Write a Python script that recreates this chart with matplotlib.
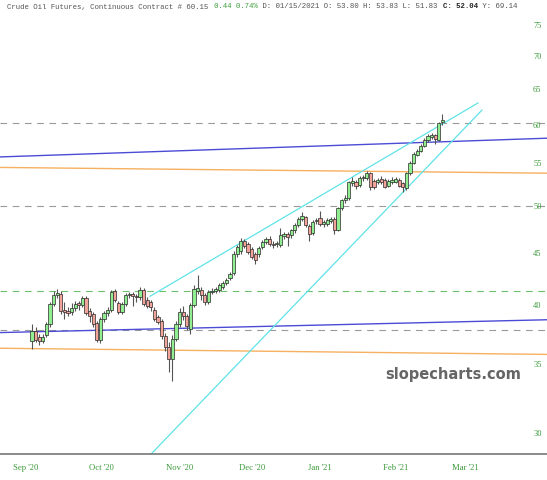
import matplotlib
matplotlib.use('Agg')

import matplotlib.pyplot as plt
import numpy as np
from matplotlib.ticker import NullLocator, FixedLocator, FixedFormatter

# daily candles (index 0 = first bar, early Sep '20)
opens = [36.9, 37.7, 37.2, 36.9, 37.4, 38.3, 40.1, 40.9, 41.0, 39.6,
         39.5, 39.4, 39.7, 40.2, 40.0, 40.6, 39.5, 39.2, 38.4, 37.0,
         38.8, 39.3, 39.6, 41.3, 40.2, 39.4, 40.1, 40.9, 41.0, 40.8,
         40.7, 41.4, 40.5, 40.3, 39.6, 38.9, 38.6, 37.3, 36.4, 35.4,
         37.1, 38.3, 39.4, 39.0, 37.9, 40.0, 41.3, 41.4, 40.9, 40.3,
         41.2, 41.3, 41.4, 41.7, 42.0, 42.5, 43.0, 44.9, 45.2, 46.2,
         45.9, 45.4, 44.9, 44.9, 45.6, 46.1, 46.4, 45.9, 45.9, 45.8,
         46.7, 46.9, 46.8, 47.3, 47.9, 48.5, 48.7, 47.8, 47.0, 48.3,
         48.6, 48.0, 48.0, 48.3, 48.5, 47.4, 49.7, 50.6, 50.9, 52.6,
         52.8, 52.4, 53.2, 53.2, 53.8, 52.9, 52.8, 53.1, 53.0, 52.3,
         52.8, 52.8, 53.0, 52.6, 52.0, 53.8, 55.1, 56.1, 56.6, 57.2,
         57.9, 58.4, 58.6, 58.0, 60.4]
highs = [38.3, 38.1, 37.5, 37.5, 38.5, 40.3, 41.3, 41.5, 41.3, 40.3,
         39.8, 40.2, 40.4, 40.4, 40.8, 40.8, 39.7, 39.4, 38.6, 38.9,
         39.5, 39.8, 41.4, 41.5, 40.4, 40.3, 41.1, 41.2, 41.2, 41.0,
         41.7, 41.6, 40.7, 40.5, 39.8, 39.1, 38.8, 37.6, 36.8, 37.4,
         38.6, 39.7, 39.9, 39.2, 40.2, 41.8, 42.8, 41.7, 41.1, 41.4,
         41.6, 41.7, 42.0, 42.2, 42.5, 43.1, 45.2, 45.8, 46.5, 46.4,
         46.1, 45.6, 45.1, 45.7, 46.3, 46.6, 46.7, 46.2, 46.2, 47.6,
         47.1, 47.1, 47.5, 48.1, 48.7, 49.3, 48.9, 48.0, 48.4, 48.6,
         49.4, 48.4, 48.6, 48.8, 48.7, 49.9, 50.8, 51.2, 52.9, 53.3,
         53.0, 53.4, 53.6, 54.1, 54.0, 53.1, 53.2, 53.4, 53.2, 53.1,
         53.3, 53.3, 53.2, 52.8, 54.0, 55.3, 56.4, 56.8, 57.4, 58.2,
         58.7, 58.9, 58.8, 60.4, 61.5]
lows = [36.2, 36.8, 36.6, 36.7, 37.2, 38.1, 39.9, 40.6, 39.2, 38.8,
        39.0, 39.1, 39.5, 39.6, 39.8, 39.1, 38.5, 38.1, 36.8, 36.7,
        38.5, 39.0, 39.4, 40.3, 39.2, 39.2, 39.9, 40.6, 39.9, 40.3,
        40.5, 39.9, 39.7, 39.5, 38.6, 38.3, 37.1, 36.1, 34.4, 33.7,
        36.9, 38.1, 38.7, 37.8, 37.5, 39.8, 41.0, 40.5, 40.0, 40.1,
        41.0, 41.1, 41.2, 41.5, 41.8, 42.3, 42.8, 44.6, 44.9, 45.5,
        44.9, 44.4, 43.9, 44.6, 45.4, 45.9, 45.7, 45.5, 45.6, 45.6,
        46.4, 45.7, 46.5, 47.0, 47.7, 48.3, 47.7, 46.2, 46.8, 48.0,
        47.8, 47.7, 47.8, 48.1, 46.9, 47.2, 49.5, 50.3, 50.7, 52.3,
        51.9, 52.1, 52.9, 53.0, 51.8, 51.9, 52.5, 52.5, 52.0, 52.1,
        52.5, 52.6, 52.1, 51.6, 51.8, 53.6, 54.9, 55.9, 56.4, 57.0,
        57.7, 58.1, 57.4, 57.8, 59.9]
closes = [37.7, 37.0, 36.9, 37.2, 38.3, 40.1, 40.9, 41.1, 39.5, 39.4,
          39.3, 39.7, 40.1, 40.0, 40.6, 39.3, 39.0, 38.3, 37.0, 38.8,
          39.3, 39.6, 41.2, 40.5, 39.4, 40.1, 40.9, 41.0, 40.8, 40.7,
          41.4, 40.1, 39.9, 39.8, 38.8, 38.5, 37.3, 36.4, 35.4, 37.1,
          38.3, 39.4, 39.0, 38.2, 40.0, 41.5, 41.6, 40.9, 40.3, 41.2,
          41.3, 41.5, 41.8, 42.0, 42.3, 42.9, 44.9, 45.6, 46.2, 45.7,
          45.1, 44.6, 44.3, 45.5, 46.1, 46.4, 45.9, 45.8, 46.0, 46.8,
          46.9, 46.6, 47.3, 47.9, 48.5, 48.9, 47.9, 46.9, 48.2, 48.4,
          48.0, 48.2, 48.4, 48.5, 47.4, 49.7, 50.6, 50.9, 52.7, 52.9,
          52.3, 53.2, 53.3, 53.8, 52.2, 52.1, 53.0, 52.7, 52.2, 52.9,
          53.0, 53.1, 52.3, 52.2, 53.8, 55.1, 56.2, 56.6, 57.2, 58.0,
          58.5, 58.6, 58.1, 60.2, 60.6]

month_labels = ["Sep '20", "Oct '20", "Nov '20", "Dec '20", "Jan '21", "Feb '21", "Mar '21"]
month_pos = [-1.7, 19.4, 41.1, 61.1, 80.0, 101.1, 120.3]
price_ticks = [30, 35, 40, 45, 50, 55, 60, 65, 70, 75]

# drawn lines: (x0, p0, x1, p1) in bar index / price
blue_lines = [(-8.9, 55.8, 143.1, 58.2), (-8.9, 37.6, 143.1, 38.7)]
orange_lines = [(-8.9, 54.5, 143.1, 53.8), (-8.9, 36.3, 143.1, 35.8)]
cyan_lines = [(32.8, 40.8, 123.9, 63.0), (32.8, 28.55, 125.0, 62.0)]
gray_levels = [60.2, 50.0, 37.8]
green_levels = [41.3]

title_parts = [("Crude Oil Futures, Continuous Contract # 60.15 ", '#555555', 'normal'),
               ("0.44 0.74%", '#3c9c3c', 'normal'),
               (" D: 01/15/2021 O: 53.80 H: 53.83 L: 51.83 ", '#555555', 'normal'),
               ("C: 52.04", '#222222', 'bold'),
               (" Y: 69.14", '#555555', 'normal')]

W, H = 547, 480
fig = plt.figure(figsize=(W / 100, H / 100), dpi=100)
ax = fig.add_axes([0, 1 - 454 / H, 1, 454 / H])
ax.set_yscale('log')

o = np.array(opens)
c = np.array(closes)
hi = np.array(highs)
lo = np.array(lows)
idx = np.arange(len(o))
up = c >= o

# reference lines
for v in gray_levels:
    ax.axhline(v, color='#9a9a9a', lw=0.8, dashes=(6, 5), zorder=1)
for v in green_levels:
    ax.axhline(v, color='#6cbf6c', lw=0.8, dashes=(6, 5), zorder=1)
for x0, p0, x1, p1 in blue_lines:
    ax.plot([x0, x1], [p0, p1], color='#4b4bd6', lw=1.0, zorder=2)
for x0, p0, x1, p1 in orange_lines:
    ax.plot([x0, x1], [p0, p1], color='#f5b060', lw=1.0, zorder=2)
for x0, p0, x1, p1 in cyan_lines:
    ax.plot([x0, x1], [p0, p1], color='#5fe3e8', lw=0.9, zorder=2)

# candles
ax.vlines(idx, lo, hi, color='#555555', lw=0.8, zorder=3)
bottoms = np.minimum(o, c)
heights = np.maximum(np.abs(c - o), 0.08)
ax.bar(idx[up], heights[up], bottom=bottoms[up], width=0.88,
       color='#90ee90', edgecolor='#2a2a2a', lw=0.5, zorder=4)
ax.bar(idx[~up], heights[~up], bottom=bottoms[~up], width=0.88,
       color='#f2a39a', edgecolor='#2a2a2a', lw=0.5, zorder=4)

ax.set_xlim(-8.89, 143.06)
ax.set_ylim(28.62, 79.4)

ax.yaxis.set_major_locator(FixedLocator(price_ticks))
ax.yaxis.set_major_formatter(FixedFormatter([str(p) for p in price_ticks]))
ax.yaxis.set_minor_locator(NullLocator())
ax.tick_params(axis='y', left=False, labelleft=False, right=False, labelright=True,
               length=0, pad=-10, labelsize=6, labelcolor='#3a9a3a')
for t in ax.get_yticklabels():
    t.set_family('Liberation Serif')

ax.set_xticks(month_pos)
ax.set_xticklabels(month_labels, family='Liberation Serif', fontsize=6.2, color='#3a9a3a')
ax.xaxis.set_minor_locator(NullLocator())
ax.tick_params(axis='x', length=0, pad=7)

for s in ['top', 'left', 'right']:
    ax.spines[s].set_visible(False)
ax.spines['bottom'].set_color('#777777')
ax.spines['bottom'].set_linewidth(1.2)

# header line, monospace pieces placed one after another
cw = 4.405
x = 7
for text, col, wt in title_parts:
    fig.text(x / W, 1 - 7 / H, text, family='Liberation Mono', fontsize=5.3,
             color=col, weight=wt, ha='left', va='center')
    x += cw * len(text)

ax.text(0.953, 1 - 375 / 454, 'slopecharts.com', transform=ax.transAxes,
        ha='right', va='center', fontsize=10.5, weight='bold', color='#666666')

fig.savefig('out.png', dpi=100)
